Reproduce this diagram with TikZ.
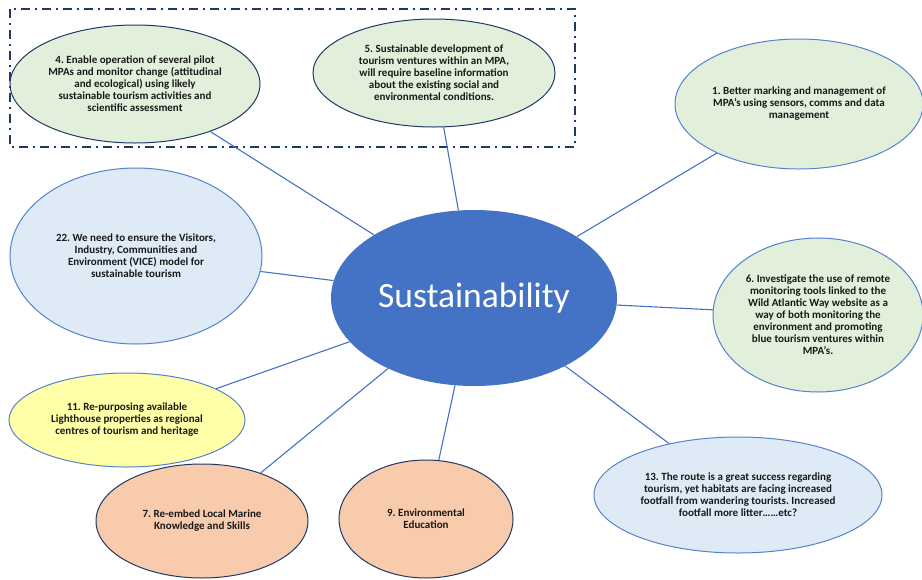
\documentclass[tikz,border=0pt]{standalone}
\usepackage{fontspec}
\setmainfont{Carlito}
\frenchspacing
\usetikzlibrary{shapes.geometric}
\definecolor{sustblue}{HTML}{4472C4}
\definecolor{navyrim}{HTML}{203864}
\definecolor{midrim}{HTML}{5582CC}
\definecolor{greenfill}{HTML}{E2EFDA}
\definecolor{bluefill}{HTML}{DEEBF7}
\definecolor{yellowfill}{HTML}{FFFFA8}
\definecolor{peachfill}{HTML}{F8CBAD}
\tikzset{
        idea/.style={ellipse, draw, line width=1pt, inner sep=0pt, align=center, text=black!90,
            font=\fontsize{11}{12}\selectfont\bfseries}, % sets properties for each outer ellipse
        darkrim/.style={draw=navyrim}, % navy outline
        lightrim/.style={draw=midrim}, % lighter blue outline
        spoke/.style={draw=sustblue, line width=1.1pt}, % line from the centre to an idea
        frame/.style={draw=navyrim, line width=1.6pt, dash pattern=on 9pt off 5pt on 2pt off 5pt},
    }
\begin{document}
\begin{tikzpicture}[x=1pt, y=-1pt, node distance=220pt]
    \useasboundingbox (0,0) rectangle (922,579);
    \node[ellipse, fill=sustblue, minimum width=286pt, minimum height=176pt, text=white,
        font=\fontsize{35.5}{40}\selectfont] (sus) at (474,298) {Sustainability};
    \node[idea, darkrim, fill=greenfill, minimum width=250pt, minimum height=118pt,
        above of=sus, left of=sus, xshift=-119pt, yshift=-6pt] (e4)
        {4. Enable operation of several pilot\\MPAs and monitor change (attitudinal\\and ecological) using likely\\sustainable tourism activities and\\scientific assessment};
    \node[idea, darkrim, fill=greenfill, minimum width=242pt, minimum height=108pt,
        above of=sus, xshift=-40pt, yshift=5pt] (e5)
        {5. Sustainable development of\\tourism ventures within an MPA,\\will require baseline information\\about the existing social and\\environmental conditions.};
    \node[idea, lightrim, fill=greenfill, minimum width=248pt, minimum height=130pt,
        above of=sus, right of=sus, xshift=105pt, yshift=-26pt] (e1)
        {1. Better marking and management of\\MPA’s using sensors, comms and data\\management};
    \node[idea, lightrim, fill=greenfill, minimum width=210pt, minimum height=154pt,
        right of=sus, xshift=124pt, yshift=-17pt] (e6)
        {6. Investigate the use of remote\\monitoring tools linked to the\\Wild Atlantic Way website as a\\way of both monitoring the\\environment and promoting\\blue tourism ventures within\\MPA’s.};
    \node[idea, lightrim, fill=bluefill, minimum width=288pt, minimum height=116pt,
        below of=sus, right of=sus, xshift=44pt, yshift=23pt] (e13)
        {13. The route is a great success regarding\\tourism, yet habitats are facing increased\\footfall from wandering tourists. Increased\\footfall more litter……etc?};
    \node[idea, lightrim, fill=bluefill, minimum width=252pt, minimum height=176pt,
        left of=sus, xshift=-118pt, yshift=42pt] (e22)
        {22. We need to ensure the Visitors,\\Industry, Communities and\\Environment (VICE) model for\\sustainable tourism};
    \node[idea, lightrim, fill=yellowfill, minimum width=236pt, minimum height=94pt,
        below of=sus, left of=sus, xshift=-127pt, yshift=98pt] (e11)
        {11. Re-purposing available\\Lighthouse properties as regional\\centres of tourism and heritage};
    \node[idea, darkrim, fill=peachfill, minimum width=212pt, minimum height=114pt,
        below of=sus, left of=sus, xshift=-52pt, yshift=-3pt] (e7)
        {7. Re-embed Local Marine\\Knowledge and Skills};
    \node[idea, darkrim, fill=peachfill, minimum width=174pt, minimum height=118pt,
        below of=sus, xshift=-48pt, yshift=-1pt] (e9)
        {9. Environmental\\Education};
    \draw[frame] (10,9) rectangle (575,147);
    \draw[spoke]
      (sus) -- (e4)
      (sus) -- (e5)
      (sus) -- (e1)
      (sus) -- (e6)
      (sus) -- (e13)
      (sus) -- (e22)
      (sus) -- (e11)
      (sus) -- (e7)
      (sus) -- (e9);
\end{tikzpicture}
\end{document}
